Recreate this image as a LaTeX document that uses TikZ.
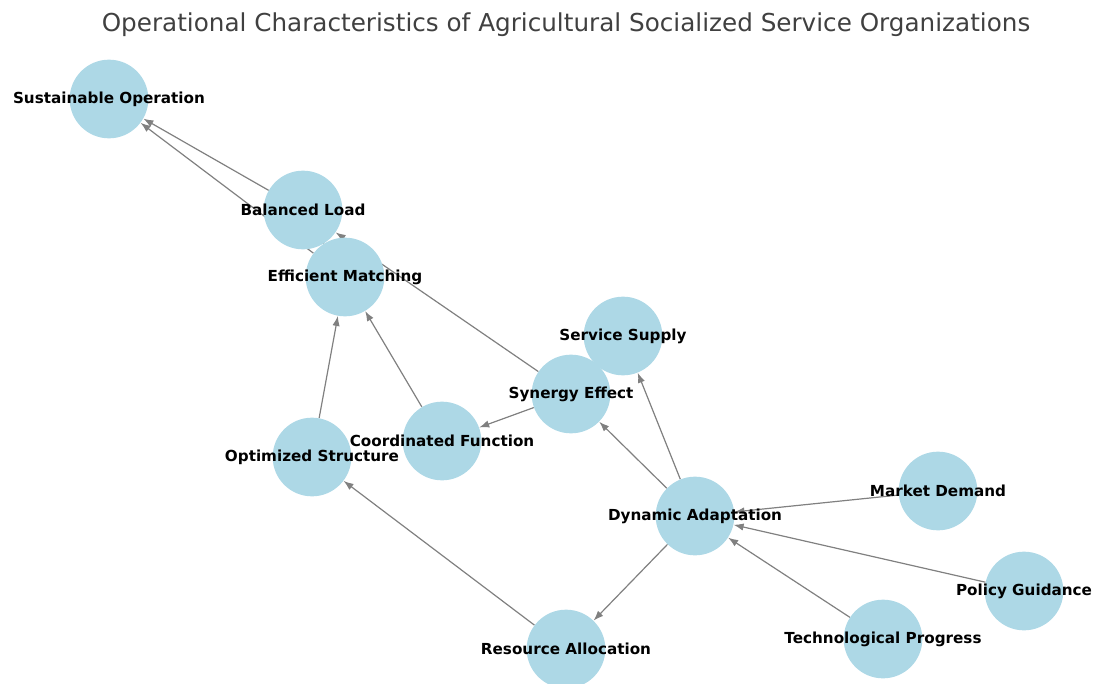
\documentclass[tikz,border=0pt]{standalone}
\usepackage{fontspec}
\setmainfont{DejaVu Sans}
\usetikzlibrary{arrows.meta,backgrounds}

\begin{document}
\begin{tikzpicture}[
    x=0.75pt, y=-0.75pt,
    factor/.style={circle, fill=lightblue, minimum size=59pt, inner sep=0pt},
    factortext/.style={font=\bfseries\fontsize{11.4}{13}\selectfont, text=black},
    arrow/.style={-{Latex[length=7.5pt,width=5.5pt]}, color=edgegray, line width=0.9pt}
]
    \definecolor{lightblue}{HTML}{ADD8E6}
    \definecolor{edgegray}{HTML}{808080}
    \useasboundingbox (0,0) rectangle (1094,684);

    % Title
    \node[font=\fontsize{18.5}{22}\selectfont, text=black!75] (title) at (566,25)
        {Operational Characteristics of Agricultural Socialized Service Organizations};

    % Nodes
    \node[factor, label={[factortext]center:Sustainable Operation}] (sust) at (109,99) {};
    \node[factor, label={[factortext]center:Balanced Load}] (bal) at (303,210) {};
    \node[factor, label={[factortext]center:Efficient Matching}] (eff) at (345,277) {};
    \node[factor, label={[factortext]center:Service Supply}] (supply) at (623,336) {};
    \node[factor, label={[factortext]center:Synergy Effect}] (syn) at (571,394) {};
    \node[factor, label={[factortext]center:Coordinated Function}] (coord) at (442,441) {};
    \node[factor, label={[factortext]center:Optimized Structure}] (opt) at (312,457) {};
    \node[factor, label={[factortext]center:Dynamic Adaptation}] (dyn) at (695,516) {};
    \node[factor, label={[factortext]center:Market Demand}] (market) at (938,491) {};
    \node[factor, label={[factortext]center:Policy Guidance}] (policy) at (1024,591) {};
    \node[factor, label={[factortext]center:Technological Progress}] (tech) at (883,639) {};
    \node[factor, label={[factortext]center:Resource Allocation}] (res) at (566,649) {};

    % Arrows
    \begin{scope}[on background layer]
        \draw[arrow] (bal) -- (sust);
        \draw[arrow] (eff) -- (sust);
        \draw[arrow] (eff) -- (bal);
        \draw[arrow] (syn) -- (bal);
        \draw[arrow] (syn) -- (coord);
        \draw[color=edgegray, line width=0.9pt, shorten <=-3pt, shorten >=-3pt] (supply) -- (syn);
        \draw[arrow] (coord) -- (eff);
        \draw[arrow] (opt) -- (eff);
        \draw[arrow] (res) -- (opt);
        \draw[arrow] (dyn) -- (res);
        \draw[arrow] (dyn) -- (syn);
        \draw[arrow] (dyn) -- (supply);
        \draw[arrow] (market) -- (dyn);
        \draw[arrow] (policy) -- (dyn);
        \draw[arrow] (tech) -- (dyn);
    \end{scope}
\end{tikzpicture}
\end{document}
